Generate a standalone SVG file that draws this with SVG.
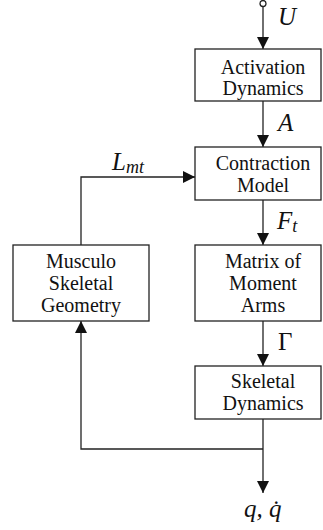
<svg xmlns="http://www.w3.org/2000/svg" width="323" height="530" viewBox="0 0 323 530">
<style>
.box{fill:#fff;stroke:#222;stroke-width:1.3}
.lbl{font-size:20px;fill:#111;text-anchor:middle}
.math{font-size:25px;font-style:italic;fill:#111}
.up{font-style:normal}
.sub{font-size:18px}
.edge{fill:none;stroke:#222;stroke-width:1.3}
</style>
<defs>
<marker id="arr" markerUnits="userSpaceOnUse" markerWidth="14" markerHeight="12" refX="12" refY="6" orient="auto">
<path d="M0,0 L12,6 L0,12 Z" fill="#111"/>
</marker>
</defs>
<g font-family="Liberation Serif, DejaVu Serif, serif">
<g id="connectors">
<circle cx="263" cy="3.5" r="3" fill="#fff" stroke="#222" stroke-width="1.3"/>
<path class="edge" d="M263,7 V49" marker-end="url(#arr)"/>
<path class="edge" d="M263,101 V147" marker-end="url(#arr)"/>
<path class="edge" d="M263,200 V245" marker-end="url(#arr)"/>
<path class="edge" d="M263,321 V366" marker-end="url(#arr)"/>
<path class="edge" d="M263,419 V493" marker-end="url(#arr)"/>
<path class="edge" d="M263,449 H81 V321" marker-end="url(#arr)"/>
<path class="edge" d="M81,245 V177 H195" marker-end="url(#arr)"/>
<text class="math" x="278" y="25">U</text>
<text class="math" x="278" y="131">A</text>
<text class="math" x="112" y="170">L<tspan class="sub" dy="3">mt</tspan></text>
<text class="math" x="277" y="229">F<tspan class="sub" dy="3">t</tspan></text>
<text class="math up" x="278" y="350">Γ</text>
<text class="math" x="244" y="517">q, q̇</text>
</g>
<g id="activation">
<rect class="box" x="195" y="49" width="126" height="52"/>
<text class="lbl" x="263" y="74">Activation</text>
<text class="lbl" x="263" y="95">Dynamics</text>
</g>
<g id="contraction">
<rect class="box" x="195" y="147" width="126" height="53"/>
<text class="lbl" x="263" y="170">Contraction</text>
<text class="lbl" x="263" y="192">Model</text>
</g>
<g id="matrix">
<rect class="box" x="195" y="245" width="126" height="76"/>
<text class="lbl" x="263" y="268">Matrix of</text>
<text class="lbl" x="263" y="290">Moment</text>
<text class="lbl" x="263" y="312">Arms</text>
</g>
<g id="skeletal">
<rect class="box" x="195" y="366" width="126" height="53"/>
<text class="lbl" x="263" y="388">Skeletal</text>
<text class="lbl" x="263" y="410">Dynamics</text>
</g>
<g id="musculo">
<rect class="box" x="13" y="245" width="136" height="76"/>
<text class="lbl" x="81" y="268">Musculo</text>
<text class="lbl" x="81" y="290">Skeletal</text>
<text class="lbl" x="81" y="312">Geometry</text>
</g>
</g>
</svg>
